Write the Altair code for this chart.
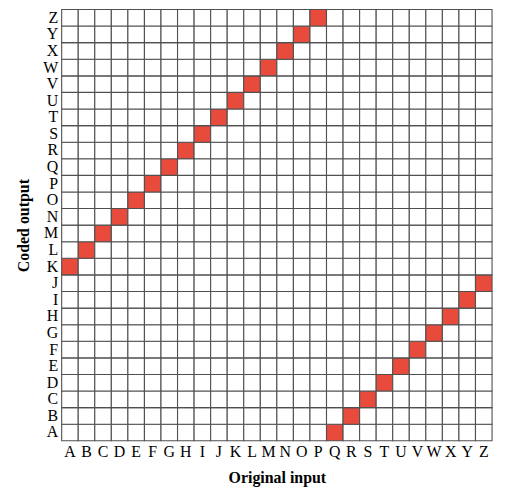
import altair as alt
import pandas as pd

letters = list("ABCDEFGHIJKLMNOPQRSTUVWXYZ")
coded = list("KLMNOPQRSTUVWXYZABCDEFGHIJ")

rows = []
for i, a in enumerate(letters):
    for b in letters:
        rows.append({"input": a, "output": b, "hit": coded[i] == b})
df = pd.DataFrame(rows)

x = alt.X("input:O", sort=letters, title="Original input",
          axis=alt.Axis(labelAngle=0, ticks=False, domain=False, labelPadding=3,
                        labelFontSize=16, titleFontSize=16, titlePadding=10))
y = alt.Y("output:O", sort=letters[::-1], title="Coded output",
          axis=alt.Axis(ticks=False, domain=False, labelPadding=4,
                        labelFontSize=16, titleFontSize=16, titlePadding=11))

chart = alt.Chart(df).mark_rect(stroke="#505050", strokeWidth=1.1).encode(
    x=x, y=y,
    fill=alt.Fill("hit:N", scale=alt.Scale(domain=[False, True], range=["white", "#e84b3c"]), legend=None),
).properties(
    width=433, height=434,
    autosize=alt.AutoSizeParams(type="none"),
    padding={"left": 54, "top": 0, "right": 6, "bottom": 48},
).configure_scale(bandPaddingInner=0).configure_axis(
    labelFont="Liberation Serif", titleFont="Liberation Serif", labelColor="black", titleColor="black"
).configure_view(stroke=None)

chart.save("out.html", embed_options={"renderer": "svg", "actions": False})
